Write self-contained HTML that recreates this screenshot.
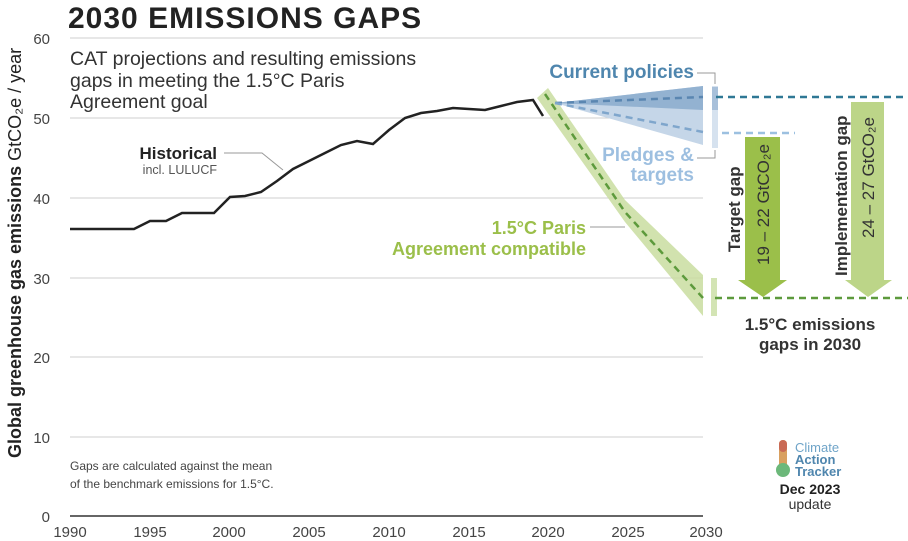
<!DOCTYPE html>
<html><head><meta charset="utf-8"><style>
body{margin:0;background:#fff;}
svg{display:block;font-family:"Liberation Sans","DejaVu Sans",sans-serif;}
</style></head><body>
<svg width="908" height="541" viewBox="0 0 908 541">
<rect width="908" height="541" fill="#fff"/>
<g stroke="#cfcfcf" stroke-width="1">
<line x1="70" y1="38" x2="703" y2="38"/>
<line x1="70" y1="118" x2="703" y2="118"/>
<line x1="70" y1="198" x2="703" y2="198"/>
<line x1="70" y1="278" x2="703" y2="278"/>
<line x1="70" y1="357" x2="703" y2="357"/>
<line x1="70" y1="437" x2="703" y2="437"/>
</g>
<line x1="70" y1="516" x2="703" y2="516" stroke="#333" stroke-width="1.5"/>
<g fill="#444" font-size="15" text-anchor="end">
<text x="50" y="44">60</text><text x="50" y="124">50</text><text x="50" y="204">40</text>
<text x="50" y="284">30</text><text x="50" y="363">20</text><text x="50" y="443">10</text><text x="50" y="522">0</text>
</g>
<g fill="#444" font-size="15" text-anchor="middle">
<text x="70" y="537">1990</text><text x="150" y="537">1995</text><text x="229" y="537">2000</text>
<text x="309" y="537">2005</text><text x="389" y="537">2010</text><text x="469" y="537">2015</text>
<text x="548" y="537">2020</text><text x="628" y="537">2025</text><text x="706" y="537">2030</text>
</g>
<text transform="translate(21,458) rotate(-90)" font-size="18" font-weight="bold" fill="#222">Global greenhouse gas emissions <tspan font-weight="normal">GtCO₂e / year</tspan></text>
<text x="68" y="28" font-size="30" font-weight="bold" fill="#222" letter-spacing="1">2030 EMISSIONS GAPS</text>
<g font-size="19.5" fill="#333">
<text x="70" y="65">CAT projections and resulting emissions</text>
<text x="70" y="87">gaps in meeting the 1.5°C Paris</text>
<text x="70" y="108">Agreement goal</text>
</g>
<text x="70" y="470" font-size="12" fill="#444">Gaps are calculated against the mean</text>
<text x="70" y="488" font-size="12" fill="#444">of the benchmark emissions for 1.5°C.</text>
<text x="217" y="159" font-size="17" font-weight="bold" fill="#222" text-anchor="end">Historical</text>
<text x="217" y="174" font-size="12.5" fill="#555" text-anchor="end">incl. LULUCF</text>
<polyline points="224,153 262,153 283,170" fill="none" stroke="#999" stroke-width="1"/>
<polygon points="537,98 548,88 625,200 703,275 703,316 625,222" fill="#c9dda0" opacity="0.85"/>
<rect x="711" y="278" width="6" height="38" fill="#d3e4b4"/>
<polyline points="545,94 625,212 703,298" fill="none" stroke="#5d9a3c" stroke-width="2.5" stroke-dasharray="7,5"/>
<line x1="715" y1="298" x2="908" y2="298" stroke="#5d9a3c" stroke-width="2.5" stroke-dasharray="7,5"/>
<line x1="590" y1="227" x2="625" y2="227" stroke="#999" stroke-width="1"/>
<text x="586" y="234" font-size="18" font-weight="bold" fill="#9bbf4a" text-anchor="end">1.5°C Paris</text>
<text x="586" y="255" font-size="18" font-weight="bold" fill="#9bbf4a" text-anchor="end">Agreement compatible</text>
<polygon points="555,103 703,86 703,145" fill="#c5d6e8"/>
<polygon points="555,103 703,86 703,110" fill="#93b2d1"/>
<line x1="555" y1="103" x2="703" y2="97" stroke="#5a86b1" stroke-width="2.5" stroke-dasharray="7,5"/>
<line x1="555" y1="103" x2="703" y2="132" stroke="#7fa6cc" stroke-width="2.5" stroke-dasharray="7,5"/>
<rect x="712" y="86" width="6" height="62" fill="#d6e2ef"/>
<rect x="712" y="87" width="6" height="23" fill="#a8c0da"/>
<line x1="716" y1="97" x2="908" y2="97" stroke="#2f7895" stroke-width="2.5" stroke-dasharray="7,5"/>
<line x1="722" y1="133" x2="795" y2="133" stroke="#9cc0e0" stroke-width="2.5" stroke-dasharray="7,5"/>
<text x="694" y="78" font-size="19" font-weight="bold" fill="#4f86ae" text-anchor="end">Current policies</text>
<polyline points="697,73 715,73 715,84" fill="none" stroke="#999" stroke-width="1"/>
<text x="694" y="161" font-size="19" font-weight="bold" fill="#9dbfe0" text-anchor="end">Pledges &amp;</text>
<text x="694" y="181" font-size="19" font-weight="bold" fill="#9dbfe0" text-anchor="end">targets</text>
<polyline points="697,158 715,158 715,150" fill="none" stroke="#999" stroke-width="1"/>
<polyline points="70,229 134,229 150,221 166,221 182,213 214,213 230,197 245,196 261,192 277,181 293,169 309,161 325,153 341,145 357,141 373,144 389,130 405,118 421,113 437,111 453,108 469,109 485,110 501,106 517,102 533,100 543,116" fill="none" stroke="#222" stroke-width="2.5"/>
<polygon points="745,137 780,137 780,280 787,280 763,297 738,280 745,280" fill="#9bbf4a"/>
<polygon points="851,102 884,102 884,280 892,280 868,297 845,280 851,280" fill="#bcd588"/>
<text transform="translate(740,252) rotate(-90)" font-size="17" font-weight="bold" fill="#333">Target gap</text>
<text transform="translate(769,265) rotate(-90)" font-size="17" fill="#333">19 – 22 GtCO₂e</text>
<text transform="translate(847,276) rotate(-90)" font-size="17" font-weight="bold" fill="#333">Implementation gap</text>
<text transform="translate(874,238) rotate(-90)" font-size="17" fill="#333">24 – 27 GtCO₂e</text>
<text x="810" y="330" font-size="17" font-weight="bold" fill="#333" text-anchor="middle">1.5°C emissions</text>
<text x="810" y="350" font-size="17" font-weight="bold" fill="#333" text-anchor="middle">gaps in 2030</text>
<rect x="779" y="440" width="8" height="28" rx="4" fill="#d9a060"/>
<rect x="779" y="440" width="8" height="12" rx="4" fill="#c96a55"/>
<circle cx="783" cy="470" r="7" fill="#6cb87a"/>
<text x="795" y="452" font-size="13" fill="#6fa4c8">Climate</text>
<text x="795" y="464" font-size="13" font-weight="bold" fill="#4f86ae">Action</text>
<text x="795" y="476" font-size="13" font-weight="bold" fill="#4f86ae">Tracker</text>
<text x="810" y="494" font-size="14" font-weight="bold" fill="#222" text-anchor="middle">Dec 2023</text>
<text x="810" y="509" font-size="14" fill="#333" text-anchor="middle">update</text>
</svg>
</body></html>
